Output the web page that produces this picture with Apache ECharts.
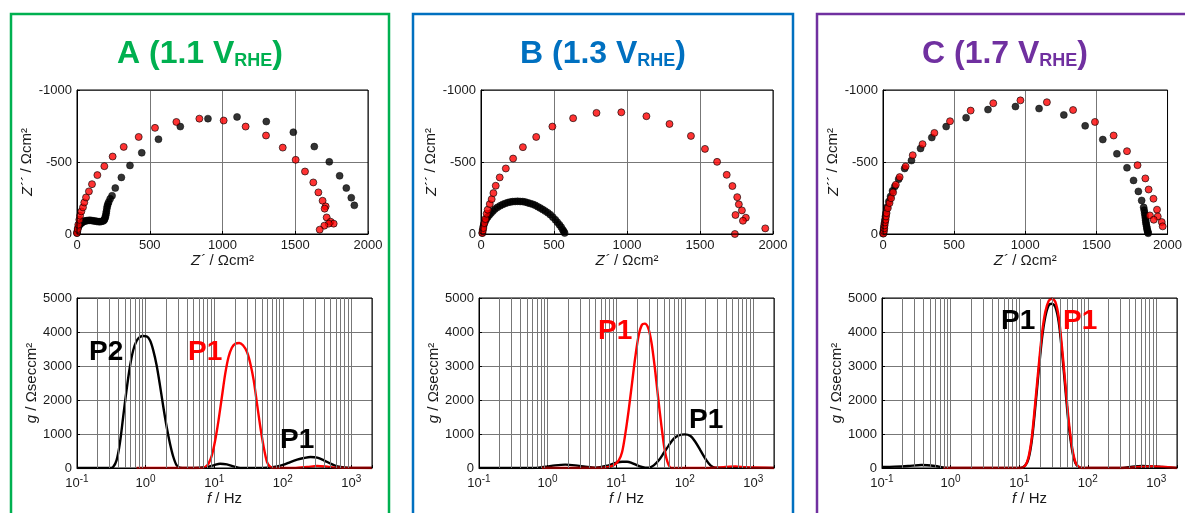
<!DOCTYPE html>
<html>
<head>
<meta charset="utf-8">
<script src="https://cdn.jsdelivr.net/npm/echarts@6/dist/echarts.min.js"></script>
<style>html,body{margin:0;padding:0;background:#fff}#c{width:1185px;height:513px}</style>
</head>
<body>
<div id="c"></div>
<script>
// ---------- DATA ----------
const panelTitles = [
  { main: 'A (1.1 V', sub: 'RHE' },
  { main: 'B (1.3 V', sub: 'RHE' },
  { main: 'C (1.7 V', sub: 'RHE' }
];
const decadeExponents = ['-1', '0', '1', '2', '3'];

// Nyquist data: [Z' (Ωcm²), Z'' (Ωcm²)]
const nyqA_black = [[0,-7],[3,-20],[7,-42],[12,-55],[18,-65],[24,-72],[30,-76],[38,-82],[46,-88],[55,-90],[64,-92],[75,-94],[87,-95],[98,-94],[110,-92],[121,-90],[133,-88],[144,-86],[156,-85],[167,-87],[179,-90],[186,-96],[190,-104],[194,-115],[197,-127],[200,-142],[202,-157],[205,-175],[208,-192],[212,-207],[218,-222],[228,-244],[241,-266],[263,-319],[305,-393],[364,-476],[445,-564],[560,-658],[710,-746],[900,-801],[1100,-813],[1301,-781],[1487,-707],[1631,-607],[1734,-501],[1805,-404],[1851,-319],[1885,-252],[1906,-199]];
const nyqA_red = [[0,-7],[5,-35],[9,-65],[16,-99],[21,-127],[30,-157],[41,-185],[50,-219],[62,-254],[82,-296],[103,-346],[140,-409],[188,-471],[245,-538],[321,-605],[424,-674],[536,-737],[683,-778],[841,-801],[1008,-788],[1159,-746],[1299,-684],[1414,-600],[1503,-515],[1567,-434],[1624,-358],[1659,-289],[1688,-231],[1709,-192],[1702,-176],[1716,-115],[1743,-85],[1764,-72],[1730,-72],[1700,-58],[1668,-30]];
const nyqB_black = [[9,-7],[12,-30],[16,-53],[21,-70],[28,-88],[36,-103],[46,-118],[57,-132],[69,-145],[82,-159],[96,-173],[113,-185],[131,-196],[148,-205],[165,-212],[183,-218],[200,-222],[217,-225],[234,-226],[251,-227],[268,-226],[286,-225],[303,-222],[320,-217],[337,-212],[355,-206],[372,-199],[389,-190],[406,-180],[423,-170],[440,-159],[458,-147],[475,-134],[492,-117],[509,-99],[523,-82],[537,-65],[549,-48],[560,-30],[567,-18],[573,-7]];
const nyqB_red = [[9,-7],[12,-22],[16,-42],[23,-76],[30,-104],[39,-141],[46,-169],[60,-208],[73,-242],[85,-284],[101,-335],[128,-393],[170,-455],[220,-524],[287,-603],[378,-674],[489,-746],[631,-804],[791,-841],[961,-845],[1133,-818],[1291,-764],[1438,-681],[1534,-591],[1617,-501],[1683,-411],[1722,-333],[1755,-256],[1766,-206],[1787,-164],[1743,-132],[1814,-113],[1794,-92],[1947,-39],[1739,0]];
const nyqC_black = [[0,-3],[2,-15],[5,-35],[7,-53],[10,-75],[14,-99],[17,-122],[21,-145],[30,-187],[41,-226],[53,-261],[67,-300],[83,-330],[110,-381],[152,-455],[200,-510],[264,-594],[343,-670],[444,-746],[584,-808],[738,-864],[931,-885],[1097,-871],[1271,-827],[1421,-751],[1545,-656],[1644,-557],[1715,-460],[1761,-372],[1795,-296],[1818,-233],[1832,-185],[1836,-165],[1839,-145],[1842,-128],[1844,-111],[1846,-95],[1848,-81],[1850,-67],[1853,-53],[1855,-41],[1857,-30],[1860,-20],[1862,-12],[1864,-5]];
const nyqC_red = [[3,-3],[7,-20],[9,-40],[11,-60],[14,-80],[18,-99],[21,-122],[25,-145],[34,-180],[46,-215],[57,-249],[71,-289],[90,-342],[117,-395],[159,-469],[209,-547],[278,-624],[361,-702],[471,-783],[616,-857],[775,-908],[966,-928],[1152,-915],[1336,-861],[1490,-778],[1621,-684],[1715,-575],[1789,-478],[1844,-386],[1867,-309],[1901,-245],[1926,-169],[1876,-129],[1931,-122],[1903,-99],[1959,-83],[1966,-53]];

// DRT data: [f (Hz), g (Ωseccm²)]
const drtA_black = [[0.1,0],[0.215,0],[0.301,0],[0.336,29],[0.377,225],[0.421,716],[0.471,1500],[0.527,2284],[0.590,2971],[0.660,3461],[0.738,3735],[0.826,3853],[0.924,3882],[1.035,3873],[1.157,3755],[1.294,3461],[1.448,3020],[1.621,2431],[1.814,1794],[2.03,1206],[2.27,716],[2.54,324],[2.84,78],[3.18,10],[4.99,0],[7.82,29],[9.78,78],[12.2,127],[15.3,108],[19.2,49],[24.0,0],[59.0,10],[82.6,49],[103.5,98],[129,176],[162,245],[203,294],[254,324],[318,304],[398,225],[499,127],[624,49],[874,10],[2000,0]];
const drtA_red = [[0.738,0],[6.24,0],[7.38,29],[8.26,127],[9.25,373],[10.35,814],[11.57,1402],[12.95,2088],[14.5,2775],[16.2,3265],[18.1,3539],[20.3,3657],[23.2,3677],[26.3,3608],[30.1,3412],[33.7,3069],[37.7,2578],[42.1,1892],[47.1,1206],[52.7,618],[59.0,176],[66.0,29],[73.8,0],[145,0],[227,29],[318,59],[445,39],[624,10],[2000,0]];
const drtB_black = [[0.1,0],[0.589,0],[0.921,39],[1.29,78],[1.81,98],[2.53,78],[3.54,39],[4.96,10],[7.76,78],[9.71,147],[12.2,186],[14.4,186],[17.0,147],[21.3,59],[26.6,10],[29.8,10],[35.3,78],[41.8,225],[49.4,441],[58.5,667],[69.2,863],[81.8,961],[100,990],[121,941],[143,765],[169,520],[201,265],[237,78],[281,10],[2000,0]];
const drtB_red = [[0.824,0],[6.19,0],[7.76,29],[9.19,78],[10.9,225],[12.2,471],[13.6,1010],[15.2,1696],[17.0,2480],[19.0,3265],[21.3,3902],[23.8,4216],[26.1,4245],[29.2,4127],[32.6,3706],[36.5,2971],[40.8,2088],[45.6,1255],[51.1,520],[57.1,127],[63.9,0],[201,0],[393,29],[550,49],[771,20],[2000,0]];
const drtC_black = [[0.1,29],[0.153,39],[0.240,59],[0.377,88],[0.590,59],[0.826,10],[1.035,0],[10.35,0],[12.2,69],[13.7,275],[15.3,814],[17.1,1745],[19.2,2824],[21.5,3804],[24.0,4441],[26.9,4784],[30.1,4833],[33.7,4735],[37.7,4294],[42.1,3412],[47.1,2333],[52.7,1275],[59.0,539],[66.0,147],[73.8,29],[82.6,0],[318,0],[445,39],[624,59],[874,49],[1224,29],[2000,0]];
const drtC_red = [[0.782,0],[10.35,0],[12.2,69],[13.7,324],[15.3,912],[17.1,1892],[19.2,2971],[21.5,3951],[24.0,4588],[26.9,4912],[30.1,4980],[33.7,4882],[37.7,4441],[42.1,3559],[47.1,2480],[52.7,1402],[59.0,618],[66.0,176],[73.8,29],[82.6,0],[356,0],[557,29],[874,49],[1371,29],[2000,0]];

// ---------- LAYOUT / STYLE ----------
const FONT = '"Liberation Sans", Arial, Helvetica, sans-serif';
const GRIDC = '#777777';
const TXT = '#1a1a1a';
const panelColors = ['#00B050', '#0070C0', '#7030A0'];
const panelRects = [[11, 14, 378], [413, 14, 380], [817, 14, 380]];
const titleX = [200, 603, 1005];
const nyqGrid = [[77, 291], [481, 292], [883, 291]];
const drtGrid = [[77, 295], [479, 295], [882, 295]];
const nyq = [[nyqA_black, nyqA_red], [nyqB_black, nyqB_red], [nyqC_black, nyqC_red]];
const drt = [[drtA_black, drtA_red], [drtB_black, drtB_red], [drtC_black, drtC_red]];
const peakLabels = [
  ['P2', '#000', 89, 352], ['P1', '#ff0000', 188, 352], ['P1', '#000', 280, 440],
  ['P1', '#ff0000', 598, 331], ['P1', '#000', 689, 420],
  ['P1', '#000', 1001, 321], ['P1', '#ff0000', 1063, 321]
];

// minor log grid lines (2..9 x each decade)
const minorVals = [];
for (let k = -1; k <= 3; k++) for (let m = 2; m <= 9; m++) { const v = m * Math.pow(10, k); if (v < 2000) minorVals.push(+v.toPrecision(3)); }

const plain = v => String(v);
const grid = [], xAxis = [], yAxis = [], series = [], graphic = [];
const axisCommon = {
  axisLine: { show: true, lineStyle: { color: '#000', width: 1 } },
  axisTick: { show: true, inside: true, length: 3, lineStyle: { color: '#000' } },
  splitLine: { show: true, lineStyle: { color: GRIDC, width: 1 } },
  nameLocation: 'middle',
  nameTextStyle: { fontFamily: FONT, fontSize: 15, color: TXT, rich: { i: { fontFamily: FONT, fontSize: 15, fontStyle: 'italic', color: TXT } } }
};
const labelCommon = { fontFamily: FONT, fontSize: 13, color: TXT };

for (let i = 0; i < 3; i++) {
  grid.push({ left: nyqGrid[i][0], top: 90, width: nyqGrid[i][1], height: 144, show: true, borderColor: '#000', borderWidth: 1, z: 4 });
  xAxis.push(Object.assign({}, axisCommon, {
    gridIndex: i, type: 'value', min: 0, max: 2000, interval: 500,
    axisLabel: Object.assign({ margin: 5, formatter: plain }, labelCommon),
    name: '{i|Z´} / Ωcm²', nameGap: 17
  }));
  yAxis.push(Object.assign({}, axisCommon, {
    gridIndex: i, type: 'value', min: -1000, max: 0, interval: 500, inverse: true,
    axisLabel: Object.assign({ margin: 5, formatter: plain }, labelCommon),
    name: '{i|Z´´} / Ωcm²', nameGap: 38
  }));
  series.push({ type: 'scatter', xAxisIndex: i, yAxisIndex: i, data: nyq[i][0], symbolSize: 7, itemStyle: { color: '#000', borderColor: '#000', borderWidth: 0.6 }, z: 3 });
  series.push({ type: 'scatter', xAxisIndex: i, yAxisIndex: i, data: nyq[i][1], symbolSize: 7, itemStyle: { color: '#ff0000', borderColor: '#000', borderWidth: 0.8 }, z: 3 });
}
for (let i = 0; i < 3; i++) {
  const gi = 3 + i;
  grid.push({ left: drtGrid[i][0], top: 298, width: drtGrid[i][1], height: 170, show: true, borderColor: '#000', borderWidth: 1, z: 4 });
  xAxis.push(Object.assign({}, axisCommon, {
    gridIndex: gi, type: 'log', logBase: 10, min: 0.1, max: 2000,
    axisLabel: Object.assign({}, labelCommon, {
      margin: 4,
      formatter: function (v) {
        const l = Math.log10(v), e = Math.round(l);
        if (Math.abs(l - e) > 1e-6) return '';
        return '{b|10}{e|' + decadeExponents[e + 1] + '}';
      },
      rich: {
        b: { fontFamily: FONT, fontSize: 13, color: TXT, lineHeight: 18, verticalAlign: 'bottom' },
        e: { fontFamily: FONT, fontSize: 10, color: TXT, lineHeight: 18, verticalAlign: 'bottom', padding: [0, 0, 6, 0] }
      }
    }),
    name: '{i|f} / Hz', nameGap: 22
  }));
  yAxis.push(Object.assign({}, axisCommon, {
    gridIndex: gi, type: 'value', min: 0, max: 5000, interval: 1000,
    axisLabel: Object.assign({ margin: 5, formatter: plain }, labelCommon),
    name: '{i|g} / Ωseccm²', nameGap: 35
  }));
  series.push({
    type: 'line', xAxisIndex: gi, yAxisIndex: gi, data: [[0.1, 0]], symbol: 'none', lineStyle: { opacity: 0 }, silent: true, z: 1,
    markLine: { silent: true, symbol: ['none', 'none'], label: { show: false }, animation: false,
      lineStyle: { color: GRIDC, width: 1, type: 'solid' }, data: minorVals.map(v => ({ xAxis: v })) }
  });
  series.push({ type: 'line', xAxisIndex: gi, yAxisIndex: gi, data: drt[i][0], showSymbol: false, symbol: 'none', smooth: 0.3, lineStyle: { color: '#000', width: 2.4 }, z: 3 });
  series.push({ type: 'line', xAxisIndex: gi, yAxisIndex: gi, data: drt[i][1], showSymbol: false, symbol: 'none', smooth: 0.3, lineStyle: { color: '#ff0000', width: 2.4 }, z: 3 });
}

for (let i = 0; i < 3; i++) {
  const r = panelRects[i];
  graphic.push({ type: 'rect', silent: true, shape: { x: r[0], y: r[1], width: r[2], height: 600 }, style: { fill: 'none', stroke: panelColors[i], lineWidth: 2.5 } });
  graphic.push({
    type: 'text', silent: true, x: titleX[i], y: 51,
    style: {
      text: '{a|' + panelTitles[i].main + '}{b|' + panelTitles[i].sub + '}{a|)}',
      align: 'center', verticalAlign: 'middle', textAlign: 'center', textVerticalAlign: 'middle',
      rich: {
        a: { fontFamily: FONT, fontSize: 32, fontWeight: 'bold', fill: panelColors[i], lineHeight: 38, verticalAlign: 'bottom' },
        b: { fontFamily: FONT, fontSize: 18, fontWeight: 'bold', fill: panelColors[i], lineHeight: 20, verticalAlign: 'bottom' }
      }
    }
  });
}
peakLabels.forEach(p => {
  graphic.push({ type: 'text', silent: true, x: p[2], y: p[3], z: 10,
    style: { text: p[0], fill: p[1], font: 'bold 28px ' + FONT, align: 'left', verticalAlign: 'middle', textAlign: 'left', textVerticalAlign: 'middle' } });
});

const chart = echarts.init(document.getElementById('c'), null, { renderer: 'canvas' });
chart.setOption({
  backgroundColor: '#fff',
  animation: false,
  grid, xAxis, yAxis, series, graphic
});
</script>
</body>
</html>
